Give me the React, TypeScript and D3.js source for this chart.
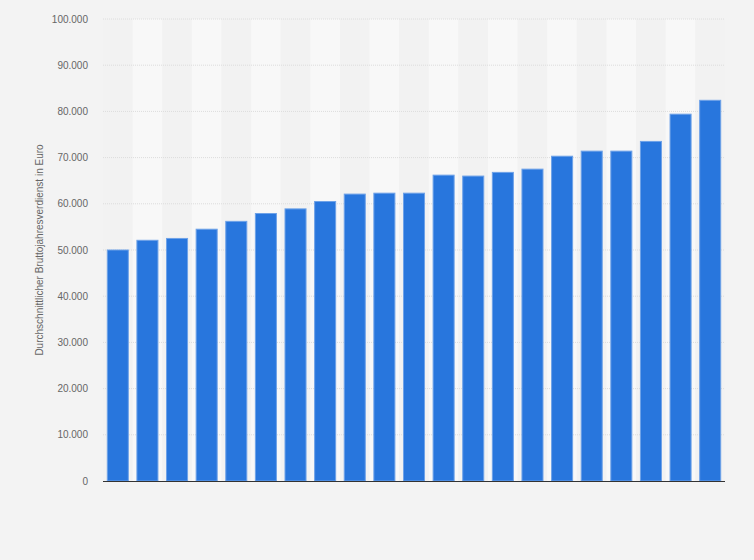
import React from "react";
import * as d3 from "d3";

const categories: string[] = [
  "1", "2", "3", "4", "5", "6", "7", "8", "9", "10", "11",
  "12", "13", "14", "15", "16", "17", "18", "19", "20", "21",
];
const values: number[] = [
  50000, 52100, 52500, 54500, 56200, 57900, 58900, 60500, 62100, 62300, 62300,
  66200, 66000, 66800, 67500, 70300, 71400, 71400, 73500, 79400, 82400,
];
const yTicks: number[] = [0, 10000, 20000, 30000, 40000, 50000, 60000, 70000, 80000, 90000, 100000];
const yTitle = "Durchschnittlicher Bruttojahresverdienst in Euro";

const W = 754;
const H = 560;
const M = { left: 103, right: 29, top: 19, bottom: 79 };

const fmt = (v: number) => d3.format(",")(v).replace(/,/g, ".");

export default function App() {
  const x = d3
    .scaleBand<string>()
    .domain(categories)
    .range([M.left, W - M.right])
    .paddingInner(0.29)
    .paddingOuter(0.145);
  const y = d3.scaleLinear().domain([0, 100000]).range([H - M.bottom, M.top]);
  const step = x.step();
  const band0 = x.range()[0];
  const font = "'Liberation Sans', Arial, sans-serif";

  return (
    <svg
      width={W}
      height={H}
      style={{ position: "absolute", left: 0, top: 0, display: "block" }}
      fontFamily={font}
    >
      <rect x={0} y={0} width={W} height={H} fill="#f3f3f3" />
      {categories.map((c, i) => (
        <rect
          key={"s" + c}
          x={band0 + i * step}
          y={M.top}
          width={step}
          height={H - M.bottom - M.top}
          fill={i % 2 === 0 ? "#f2f2f2" : "#f8f8f8"}
        />
      ))}
      {yTicks.map((t) => (
        <g key={"t" + t}>
          {t > 0 && (
            <line
              x1={M.left}
              x2={W - M.right}
              y1={y(t)}
              y2={y(t)}
              stroke="#dcdcdc"
              strokeWidth={1}
              strokeDasharray="1,1"
            />
          )}
          <text
            x={88}
            y={y(t)}
            dy="0.35em"
            textAnchor="end"
            fontSize={10}
            fill="#666"
          >
            {fmt(t)}
          </text>
        </g>
      ))}
      {values.map((v, i) => (
        <rect
          key={"b" + i}
          x={x(categories[i])!}
          y={y(v)}
          width={x.bandwidth()}
          height={y(0) - y(v)}
          fill="#2876dd"
          stroke="#6ea2e8"
          strokeWidth={1}
        />
      ))}
      <line
        x1={M.left}
        x2={W - M.right}
        y1={y(0) + 0.5}
        y2={y(0) + 0.5}
        stroke="#333"
        strokeWidth={1}
      />
      <text
        transform={`translate(43,${(y(0) + y(100000)) / 2}) rotate(-90)`}
        textAnchor="middle"
        fontSize={10}
        fill="#666"
      >
        {yTitle}
      </text>
    </svg>
  );
}
